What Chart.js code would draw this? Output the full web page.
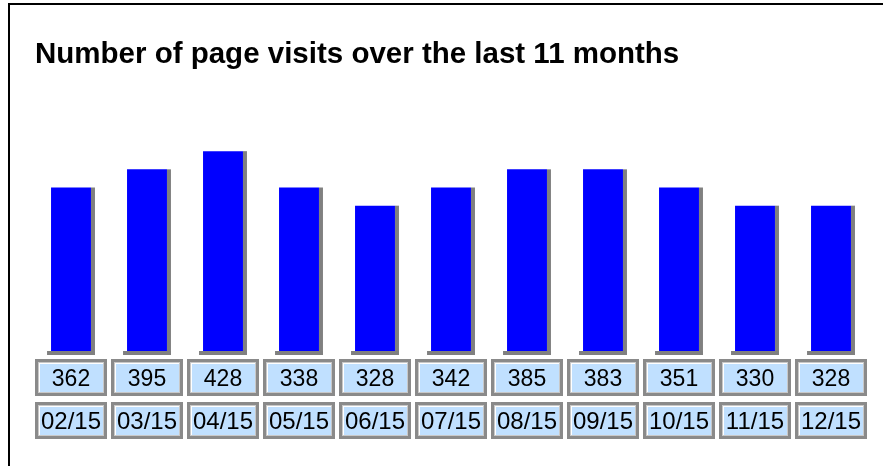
<!DOCTYPE html>
<html>
<head>
<meta charset="utf-8">
<script src="https://cdn.jsdelivr.net/npm/chart.js@4"></script>
<style>
    html, body { margin: 0; padding: 0; background: #ffffff; }
    #wrap { width: 883px; height: 466px; }
</style>
</head>
<body>
<div id="wrap"><canvas id="visitsChart" width="883" height="466"></canvas></div>
<script>
// Veriler
const chartTitle = 'Number of page visits over the last 11 months';
const months = ['02/15', '03/15', '04/15', '05/15', '06/15', '07/15', '08/15', '09/15', '10/15', '11/15', '12/15'];
const visits = [362, 395, 428, 338, 328, 342, 385, 383, 351, 330, 328];
// bar heights as drawn in the picture (stepped levels, not proportional to visits)
const barLevels = [9, 10, 11, 9, 8, 9, 10, 10, 9, 8, 8];
const levelMax = 12;

// frame, title, bar shadows, value and month boxes
const decorPlugin = {
    id: 'decor',
    beforeDatasetsDraw(chart) {
        const ctx = chart.ctx;
        const meta = chart.getDatasetMeta(0);
        ctx.save();
        ctx.fillStyle = '#808080';
        meta.data.forEach(bar => {
            const left = bar.x - bar.width / 2;
            const right = bar.x + bar.width / 2;
            ctx.fillRect(right, bar.y, 4, bar.base - bar.y + 4);
            ctx.fillRect(left - 4, bar.base, right - left + 8, 4);
        });
        ctx.restore();
    },
    afterDraw(chart) {
        const ctx = chart.ctx;
        const xScale = chart.scales.x;
        ctx.save();

        // çerçeve
        ctx.fillStyle = '#000000';
        ctx.fillRect(8, 3, chart.width - 8, 2);
        ctx.fillRect(8, 3, 2, chart.height - 3);

        // başlık
        ctx.fillStyle = '#000000';
        ctx.font = 'bold 29.5px "Liberation Sans", Arial, sans-serif';
        ctx.textAlign = 'left';
        ctx.textBaseline = 'alphabetic';
        ctx.fillText(chartTitle, 35, 63);

        months.forEach((m, i) => {
            const cx = xScale.getPixelForValue(i);
            drawBox(ctx, cx, 359, String(visits[i]), 23);
            drawBox(ctx, cx, 402, m, 24);
        });
        ctx.restore();
    }
};

function drawBox(ctx, cx, top, text, size) {
    const w = 72;
    const h = 37;
    const x0 = Math.round(cx - w / 2);
    ctx.fillStyle = '#8a8a8a';
    ctx.fillRect(x0, top, w, h);
    ctx.fillStyle = '#c8c8c8';
    ctx.fillRect(x0 + 3, top + 3, w - 6, h - 6);
    ctx.fillStyle = '#ffffff';
    ctx.fillRect(x0 + 4, top + 4, w - 8, h - 8);
    ctx.fillStyle = '#c0e0ff';
    ctx.fillRect(x0 + 5, top + 5, w - 9, h - 9);
    ctx.fillStyle = '#000000';
    ctx.font = size + 'px "Liberation Sans", Arial, sans-serif';
    ctx.textAlign = 'center';
    ctx.textBaseline = 'middle';
    ctx.fillText(text, cx, top + h / 2 + 2);
}

new Chart(document.getElementById('visitsChart'), {
    type: 'bar',
    data: {
        labels: months,
        datasets: [{
            label: 'Visits',
            data: barLevels,
            backgroundColor: '#0000ff',
            borderWidth: 0,
            barPercentage: 0.74,
            categoryPercentage: 0.71
        }]
    },
    options: {
        responsive: false,
        animation: false,
        layout: {
            padding: { top: 133, bottom: 115, left: 33, right: 14 }
        },
        scales: {
            x: { display: false },
            y: { display: false, min: 0, max: levelMax }
        },
        plugins: {
            legend: { display: false },
            title: { display: false },
            tooltip: { enabled: false }
        }
    },
    plugins: [decorPlugin]
});
</script>
</body>
</html>
